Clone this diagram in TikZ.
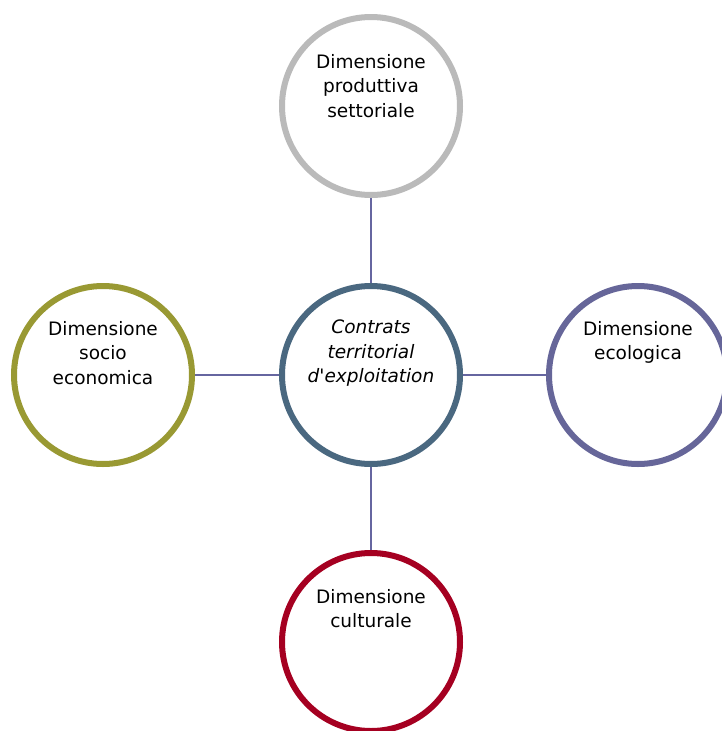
\documentclass[tikz,border=0pt]{standalone}
\usepackage{fontspec}
\setmainfont{DejaVu Sans}
\begin{document}
\definecolor{cgray}{RGB}{186,186,186}
\definecolor{cblue}{RGB}{74,104,128}
\definecolor{colive}{RGB}{153,153,51}
\definecolor{cpurple}{RGB}{102,102,153}
\definecolor{cred}{RGB}{165,0,33}
\definecolor{clink}{RGB}{102,102,160}
\begin{tikzpicture}[x=1pt,y=-1pt,
  ring/.style={circle,draw=#1,line width=6pt,fill=white,minimum size=178pt,inner sep=0pt},
  label/.style={anchor=north,align=center,inner sep=0pt,
    font=\fontsize{18.5}{24.5}\selectfont},
  link/.style={draw=clink,line width=1.5pt}]
\useasboundingbox (0,0) rectangle (722,731);
\clip (0,0) rectangle (722,731);
% connectors drawn first so the rings cover their ends
\coordinate (pc) at (371,375);
\coordinate (pt) at (371,106);
\coordinate (pl) at (103,375);
\coordinate (pr) at (638,375);
\coordinate (pb) at (371,642);
\draw[link] (pc) -- (pt);
\draw[link] (pc) -- (pl);
\draw[link] (pc) -- (pr);
\draw[link] (pc) -- (pb);
% rings
\node[ring=cgray]   (top)    at (pt) {};
\node[ring=cblue]   (centre) at (pc) {};
\node[ring=colive]  (left)   at (pl) {};
\node[ring=cpurple] (right)  at (pr) {};
\node[ring=cred]    (bottom) at (pb) {};
% labels, set near the top of each ring
\node[label] (ttop) at (371,54) {Dimensione\\produttiva\\settoriale};
\node[label,font=\fontsize{18.5}{24.5}\selectfont\itshape] (tcentre) at (371,320) {Contrats\\territorial\\d\textquotesingle exploitation};
\node[label] (tleft) at (103,321) {Dimensione\\socio\\economica};
\node[label] (tright) at (638,321) {Dimensione\\ecologica};
\node[label] (tbottom) at (371,589) {Dimensione\\culturale};
\end{tikzpicture}
\end{document}
